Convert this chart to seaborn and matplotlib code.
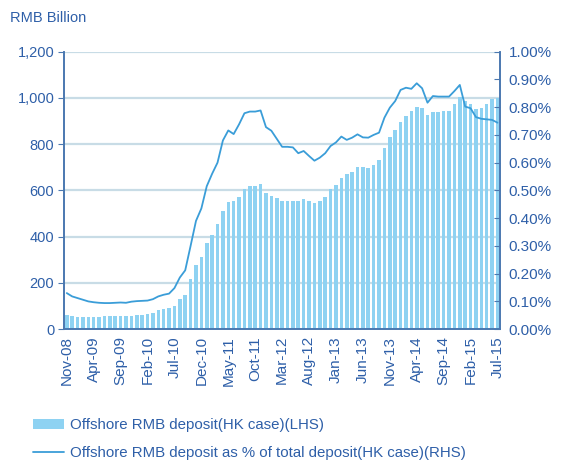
import numpy as np
import pandas as pd
import seaborn as sns
import matplotlib.pyplot as plt
from matplotlib.patches import Patch
from matplotlib.lines import Line2D

months = pd.date_range("2008-11-01", "2015-07-01", freq="MS")
month_labels = [m.strftime("%b-%y") for m in months]

deposit = [62, 56, 54, 54, 54, 54, 54, 55, 55, 56,
           56, 58, 59, 62, 63, 66, 72, 81, 86, 91,
           102, 130, 148, 216, 278, 314, 372, 408, 454, 512,
           549, 555, 573, 608, 621, 620, 628, 588, 576, 566,
           555, 552, 555, 556, 562, 552, 545, 555, 572, 604,
           624, 653, 670, 679, 700, 699, 696, 710, 730, 782,
           829, 862, 895, 921, 944, 960, 957, 925, 938, 938,
           944, 944, 975, 1003, 987, 975, 954, 955, 974, 996, 999]

share_pct = [0.130, 0.118, 0.112, 0.106, 0.100, 0.097, 0.095, 0.094, 0.094, 0.095,
             0.096, 0.095, 0.099, 0.101, 0.102, 0.103, 0.108, 0.118, 0.124, 0.128,
             0.148, 0.186, 0.212, 0.300, 0.390, 0.435, 0.515, 0.560, 0.600, 0.680,
             0.716, 0.703, 0.738, 0.778, 0.784, 0.784, 0.788, 0.728, 0.715, 0.686,
             0.657, 0.657, 0.655, 0.634, 0.642, 0.624, 0.607, 0.618, 0.634, 0.660,
             0.673, 0.694, 0.682, 0.690, 0.702, 0.691, 0.690, 0.700, 0.708, 0.762,
             0.798, 0.822, 0.862, 0.870, 0.866, 0.886, 0.868, 0.816, 0.840, 0.838,
             0.838, 0.838, 0.858, 0.880, 0.802, 0.796, 0.764, 0.758, 0.756, 0.754, 0.744]

bar_label = "Offshore RMB deposit(HK case)(LHS)"
line_label = "Offshore RMB deposit as % of total deposit(HK case)(RHS)"

text_c = "#2E5FA8"
axis_c = "#4A78B0"
bar_c = "#8ED2F2"
line_c = "#3A9DD8"
grid_c = "#C8DCE6"

sns.set_style("white")
plt.rcParams["font.family"] = ["Liberation Sans", "DejaVu Sans"]

df = pd.DataFrame({"pos": np.arange(len(deposit)), "deposit": deposit, "pct": share_pct})

fig = plt.figure(figsize=(5.62, 4.61), dpi=100)
ax = fig.add_axes([0.114, 0.286, 0.776, 0.602])
sns.barplot(data=df, x="pos", y="deposit", color=bar_c, width=0.66,
            saturation=1, linewidth=0, ax=ax)
ax.set_xlim(-0.5, len(deposit) - 0.5)
ax.set_ylim(0, 1200)
ax.set_yticks(range(0, 1201, 200))
ax.set_yticklabels([f"{v:,}" for v in range(0, 1201, 200)], color=text_c, fontsize=10.5)
for y in range(200, 1201, 200):
    ax.axhline(y, color=grid_c, lw=1.6, zorder=0)
ax.set_axisbelow(True)

tick_pos = np.arange(0, len(deposit), 5)
ax.set_xticks(tick_pos)
ax.set_xticklabels([month_labels[i] for i in tick_pos], rotation=90,
                   color=text_c, fontsize=11)
ax.tick_params(axis="x", length=0, pad=5)
ax.set_xticks(np.arange(-0.5, len(deposit), 5), minor=True)
ax.tick_params(axis="x", which="minor", length=4, color=axis_c, direction="out")
ax.tick_params(axis="y", length=4, color=axis_c, direction="out", pad=3)
ax.set_xlabel("")
ax.set_ylabel("")

ax2 = ax.twinx()
sns.lineplot(data=df, x="pos", y="pct", color=line_c, lw=1.3, ax=ax2)
ax2.set_ylim(0, 1.0)
ax2.set_yticks(np.arange(0, 1.001, 0.1))
ax2.set_yticklabels([f"{v:.2f}%" for v in np.arange(0, 1.001, 0.1)],
                    color=text_c, fontsize=11)
ax2.tick_params(axis="y", length=4, color=axis_c, direction="in", pad=6)
ax2.set_xlim(-0.5, len(deposit) - 0.5)
ax2.set_ylabel("")

for a in (ax, ax2):
    a.spines["top"].set_visible(False)
    for side in ("left", "right", "bottom"):
        a.spines[side].set_color(axis_c)
        a.spines[side].set_linewidth(1.2)

fig.text(0.018, 0.962, "RMB Billion", color=text_c, fontsize=10.5, va="center")

handles = [Patch(facecolor=bar_c, edgecolor="none"),
           Line2D([0], [0], color=line_c, lw=1.3)]
fig.legend(handles, [bar_label, line_label], loc="lower left",
           bbox_to_anchor=(0.034, -0.028), frameon=False, fontsize=10.8,
           handlelength=2.1, handletextpad=0.4, labelspacing=0.95,
           labelcolor=text_c)

fig.savefig("out.png", dpi=100)
